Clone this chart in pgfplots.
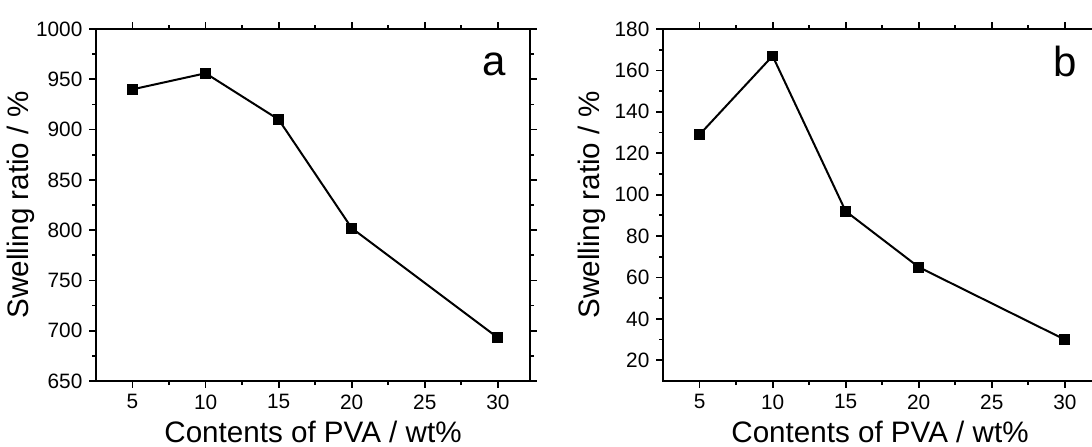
\documentclass[border=0pt]{standalone}
\usepackage{fontspec}
\setmainfont{Liberation Sans}
\usepackage{pgfplots}
\pgfplotsset{compat=1.18}
\begin{document}
\begin{tikzpicture}
\pgfplotsset{
  swell/.style={
    scale only axis, width=217pt, height=176pt,
    xmin=2.5, xmax=32.2,
    xtick={5,10,15,20,25,30},
    minor x tick num=1,
    tick align=outside,
    major tick length=3.3pt, minor tick length=2pt,
    axis line style={line width=1.1pt},
    every tick/.style={black, line width=0.9pt},
    tick label style={font=\fontsize{10.4}{12}\selectfont},
    label style={font=\fontsize{14.8}{16}\selectfont},
    /pgf/number format/assume math mode=true,
    /pgf/number format/1000 sep={},
    xlabel={Contents of PVA / wt\%},
    ylabel={Swelling ratio / \%},
    xlabel shift=-1pt,
    clip=false,
  },
  mk/.style={black, line width=1pt, mark=square*, mark size=2.2pt, mark options={solid}},
}
% panel a
\begin{axis}[swell, at={(48pt,32.5pt)}, anchor=south west, ylabel shift=-6pt,
    ymin=650, ymax=1000, ytick={650,700,...,1000}, minor y tick num=1]
\addplot[mk] coordinates {(5,940) (10,956) (15,910) (20,802) (30,693)};
\node[font=\fontsize{21}{24}\selectfont, inner sep=0pt] at (axis cs:29.73,965) {a};
\end{axis}
% panel b
\begin{axis}[swell, at={(331.5pt,32.5pt)}, anchor=south west, ylabel shift=-2.5pt,
    ymin=10, ymax=180, ytick={20,40,...,180}, minor y tick num=1]
\addplot[mk] coordinates {(5,129) (10,167) (15,92) (20,65) (30,30)};
\node[font=\fontsize{21}{24}\selectfont, inner sep=0pt] at (axis cs:30,164.3) {b};
\end{axis}
\pgfresetboundingbox
\useasboundingbox (0,0) rectangle (546pt,223pt);
\end{tikzpicture}
\end{document}
